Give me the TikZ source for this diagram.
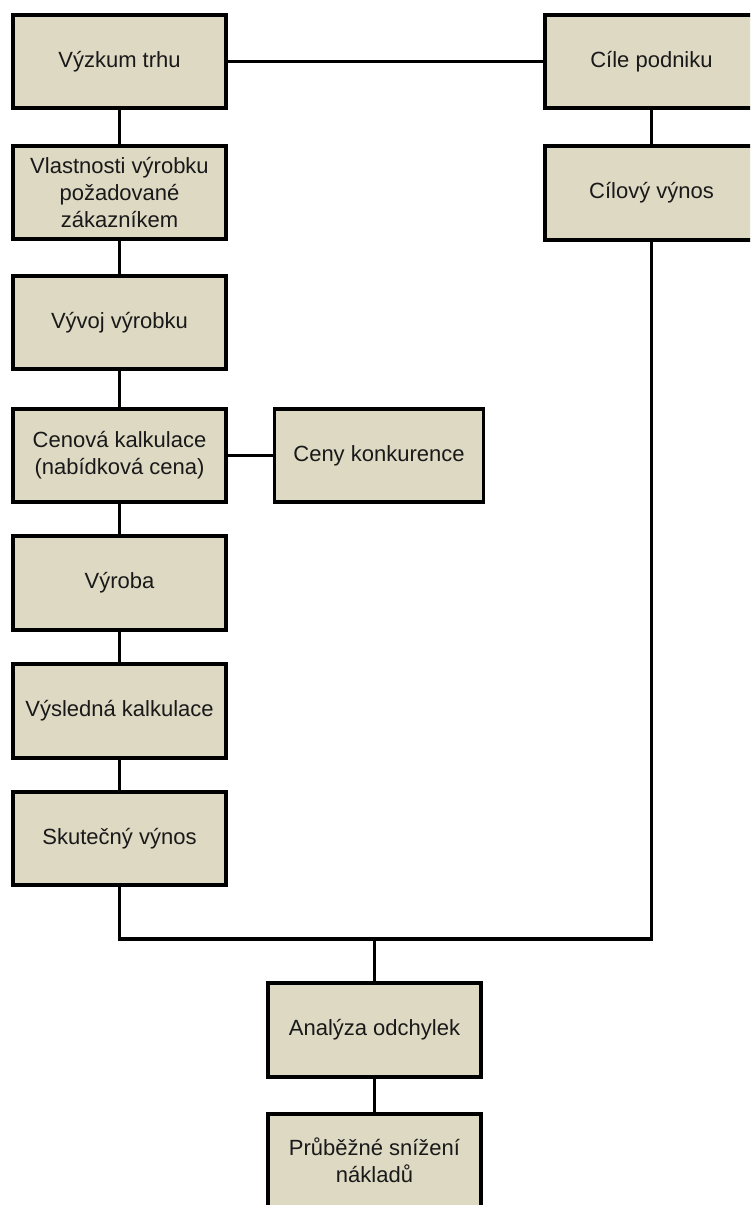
\documentclass[tikz,border=0pt]{standalone}
\usepackage{fontspec}
\setmainfont{Liberation Sans}
\definecolor{boxfill}{HTML}{DDD9C3}
\begin{document}
\begin{tikzpicture}[x=1pt,y=-1pt,
  box/.style={draw=black, line width=3.8pt, fill=boxfill, rectangle,
    minimum width=213.5pt, minimum height=93.5pt, inner sep=2pt,
    align=center, font=\fontsize{22}{27}\selectfont, text=black!90},
  link/.style={draw=black, line width=3.8pt}]
\useasboundingbox (0,0) rectangle (750,1205);
\clip (0,0) rectangle (750,1205);

% left column
\node[box] (vyzkum) at (119.5,61.5) {Výzkum trhu};
\node[box] (vlast)  at (119.5,192.5) {Vlastnosti výrobku\\požadované\\zákazníkem};
\node[box] (vyvoj)  at (119.5,322.5) {Vývoj výrobku};
\node[box] (cenova) at (119.5,455.5) {Cenová kalkulace\\(nabídková cena)};
\node[box] (vyroba) at (119.5,583) {Výroba};
\node[box] (vysled) at (119.5,711) {Výsledná kalkulace};
\node[box] (skut)   at (119.5,838.5) {Skutečný výnos};

% right column
\node[box] (cile)   at (651.5,61.5) {Cíle podniku};
\node[box] (cilovy) at (651.5,193) {Cílový výnos};

% side box
\node[box, minimum width=209pt] (ceny) at (379,455.5) {Ceny konkurence};

% bottom
\node[box] (analyza) at (374.5,1030) {Analýza odchylek};
\node[box] (prubezne) at (374.5,1160.5) {Průběžné snížení\\nákladů};

\coordinate (merge) at (374.5,939);

% connectors
\draw[link] (vyzkum.east) -- (cile.west);
\draw[link] (vyzkum) -- (vlast);
\draw[link] (vlast) -- (vyvoj);
\draw[link] (vyvoj) -- (cenova);
\draw[link] (cenova) -- (vyroba);
\draw[link] (vyroba) -- (vysled);
\draw[link] (vysled) -- (skut);
\draw[link] (cenova.east) -- (ceny.west);
\draw[link] (cile) -- (cilovy);
\draw[link] (skut.south) |- (merge) -| (cilovy.south);
\draw[link] (merge) -- (analyza.north);
\draw[link] (analyza) -- (prubezne);
\end{tikzpicture}
\end{document}
